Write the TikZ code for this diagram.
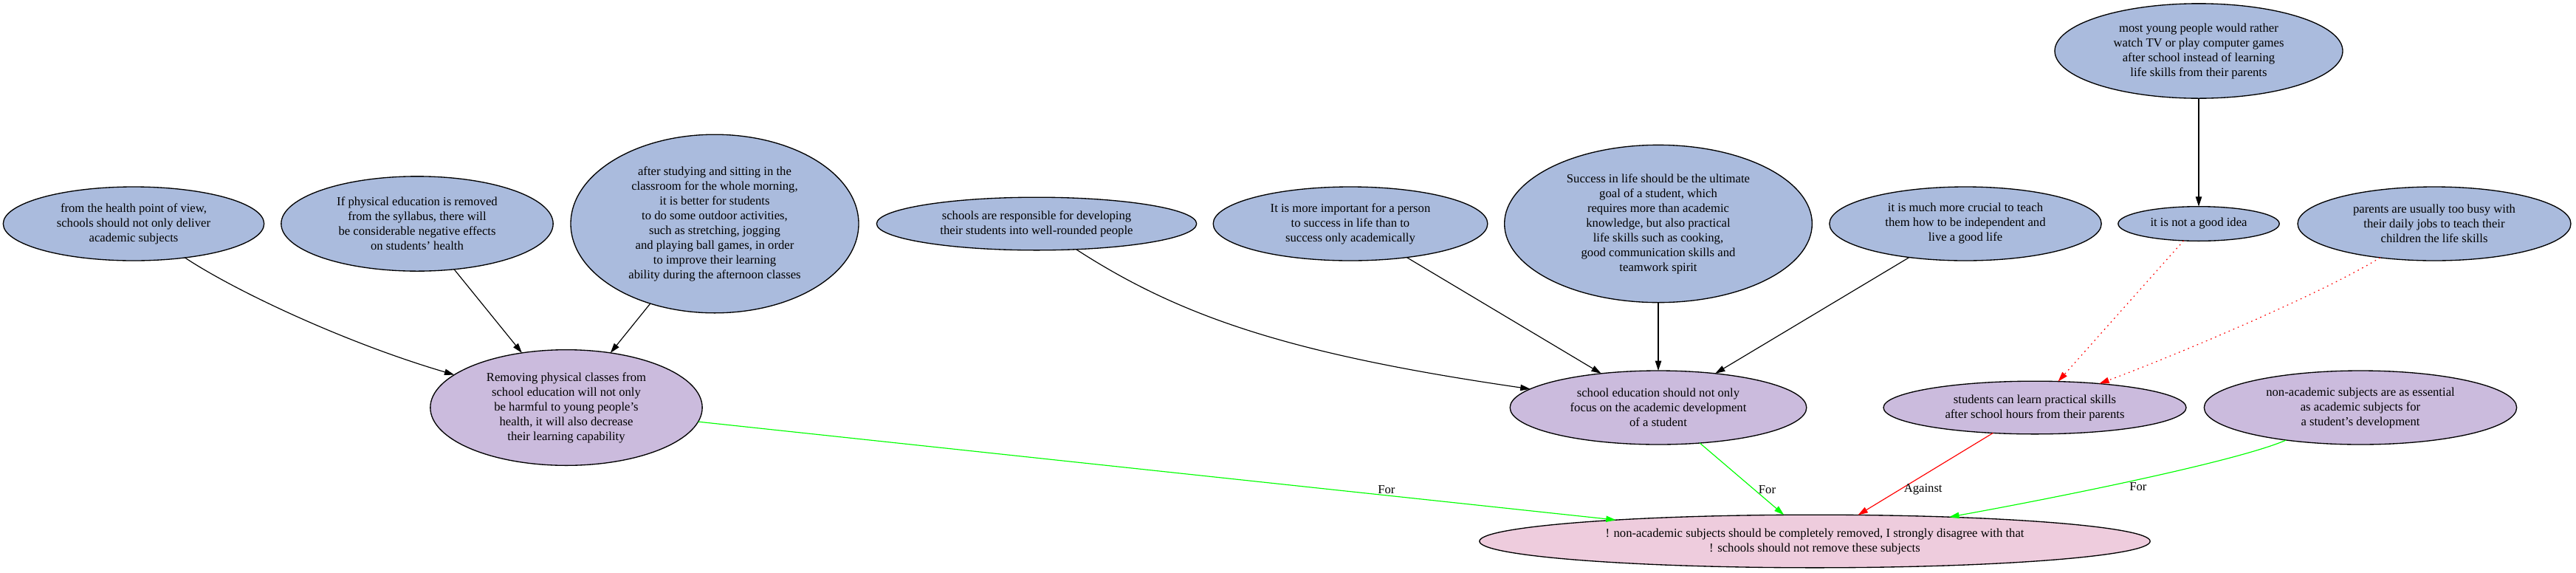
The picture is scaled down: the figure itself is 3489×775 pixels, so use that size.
\documentclass[tikz,border=0pt]{standalone}
\usepackage{fontspec}
\setmainfont{Liberation Serif}
\usepackage{tikz}
\usetikzlibrary{shapes.geometric,arrows.meta}
\definecolor{premiseblue}{HTML}{AABBDD}
\definecolor{reasonpurple}{HTML}{CBBBDD}
\definecolor{claimpink}{HTML}{EECCDD}

\begin{document}
\begin{tikzpicture}[x=0.6pt,y=-0.6pt,
    arg/.style={ellipse, draw=black, line width=0.8pt, inner sep=0pt, outer sep=0pt,
        align=center, font=\fontsize{10}{12}\selectfont},
    premise/.style={arg, fill=premiseblue},
    reason/.style={arg, fill=reasonpurple},
    claim/.style={arg, fill=claimpink},
    link/.style={line width=0.7pt, -{Triangle[length=8pt,width=5pt]}},
    pro/.style={link, draw=green},
    con/.style={link, draw=red},
    attack/.style={link, draw=red, dash pattern=on 1pt off 3pt},
    lbl/.style={font=\fontsize{10}{12}\selectfont, inner sep=1pt, text=black}]
    \useasboundingbox (0,0) rectangle (3489,775);

    % premises:
    \node[premise, minimum width=212pt, minimum height=60pt] (health) at (181,303)
        {from the health point of view,\\ schools should not only deliver\\ academic subjects};
    \node[premise, minimum width=221pt, minimum height=77pt] (physical) at (565,303)
        {If physical education is removed\\ from the syllabus, there will\\ be considerable negative effects\\ on students’ health};
    \node[premise, minimum width=234pt, minimum height=145pt] (afterclass) at (968,303)
        {after studying and sitting in the\\ classroom for the whole morning,\\ it is better for students\\ to do some outdoor activities,\\ such as stretching, jogging\\ and playing ball games, in order\\ to improve their learning\\ ability during the afternoon classes};
    \node[premise, minimum width=260pt, minimum height=43pt] (rounded) at (1404,303)
        {schools are responsible for developing\\ their students into well-rounded people};
    \node[premise, minimum width=223pt, minimum height=60pt] (important) at (1829,303)
        {It is more important for a person\\ to success in life than to\\ success only academically};
    \node[premise, minimum width=250pt, minimum height=128pt] (success) at (2246,303)
        {Success in life should be the ultimate\\ goal of a student, which\\ requires more than academic\\ knowledge, but also practical\\ life skills such as cooking,\\ good communication skills and\\ teamwork spirit};
    \node[premise, minimum width=221pt, minimum height=60pt] (crucial) at (2662,303)
        {it is much more crucial to teach\\ them how to be independent and\\ live a good life};
    \node[premise, minimum width=234pt, minimum height=77pt] (tvgames) at (2978,69)
        {most young people would rather\\ watch TV or play computer games\\ after school instead of learning\\ life skills from their parents};
    \node[premise, minimum width=131pt, minimum height=28pt] (notgood) at (2978,303)
        {it is not a good idea};
    \node[premise, minimum width=222pt, minimum height=60pt] (busy) at (3297,303)
        {parents are usually too busy with\\ their daily jobs to teach their\\ children the life skills};

    % reasons:
    \node[reason, minimum width=221pt, minimum height=94pt] (removing) at (767,552)
        {Removing physical classes from\\ school education will not only\\ be harmful to young people’s\\ health, it will also decrease\\ their learning capability};
    \node[reason, minimum width=241pt, minimum height=60pt] (focus) at (2246,552)
        {school education should not only\\ focus on the academic development\\ of a student};
    \node[reason, minimum width=246pt, minimum height=43pt] (parents) at (2756,552)
        {students can learn practical skills\\ after school hours from their parents};
    \node[reason, minimum width=254pt, minimum height=60pt] (essential) at (3197,552)
        {non-academic subjects are as essential\\ as academic subjects for\\ a student’s development};

    % claim:
    \node[claim, minimum width=545pt, minimum height=43pt] (claim) at (2458,733)
        {! non-academic subjects should be completely removed, I strongly disagree with that\\ ! schools should not remove these subjects};

    % supports
    \draw[link] (health) .. controls (320,395) and (470,465) .. (removing);
    \draw[link] (physical) -- (removing);
    \draw[link] (afterclass) -- (removing);
    \draw[link] (rounded) .. controls (1600,430) and (1750,480) .. (focus);
    \draw[link] (important) -- (focus);
    \draw[link] (success) -- (focus);
    \draw[link] (crucial) -- (focus);
    \draw[link] (tvgames) -- (notgood);
    \draw[attack] (notgood) -- (parents);
    \draw[attack] (busy) .. controls (3150,395) and (2950,480) .. (parents);

    % to the claim
    \draw[pro] (removing) -- node[lbl, pos=0.75, above] {For} (claim);
    \draw[pro] (focus) -- node[lbl, pos=0.65, right=2pt] {For} (claim);
    \draw[con] (parents) -- node[lbl, pos=0.69, right=2pt] {Against} (claim);
    \draw[pro] (essential) .. controls (3030,625) and (2780,675) .. node[lbl, pos=0.5, below=1pt] {For} (claim);
\end{tikzpicture}
\end{document}
